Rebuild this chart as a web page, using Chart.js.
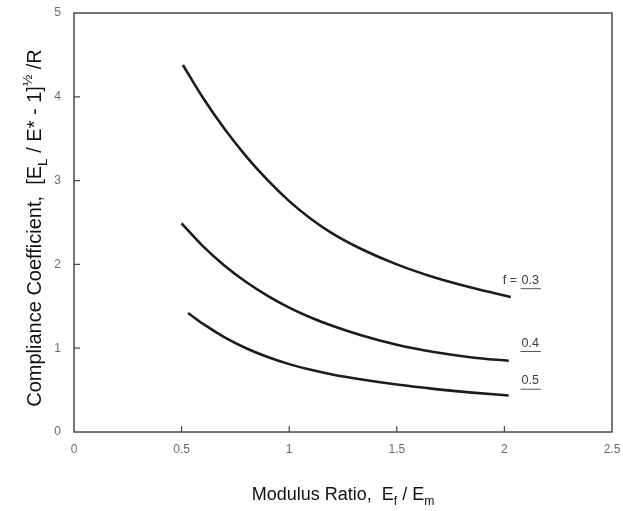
<!DOCTYPE html>
<html>
<head>
<meta charset="utf-8">
<script src="https://cdn.jsdelivr.net/npm/chart.js@4"></script>
<style>
  html, body { margin: 0; padding: 0; background: #fff; }
  #wrap { width: 623px; height: 511px; }
</style>
</head>
<body>
<div id="wrap"><canvas id="compliance_chart" width="623" height="511"></canvas></div>
<script>
// modulus ratio Ef/Em sampled along each curve
var ratio03 = [0.506, 0.6, 0.7, 0.8, 0.9, 1.0, 1.1, 1.2, 1.33, 1.5, 1.68, 1.85, 2.03];
var coef03  = [4.38, 3.985, 3.615, 3.29, 3.005, 2.755, 2.545, 2.37, 2.19, 2.0, 1.84, 1.72, 1.61];
var ratio04 = [0.5, 0.6, 0.7, 0.8, 0.9, 1.0, 1.1, 1.2, 1.33, 1.5, 1.68, 1.85, 2.02];
var coef04  = [2.49, 2.215, 1.985, 1.79, 1.625, 1.485, 1.367, 1.267, 1.157, 1.041, 0.951, 0.89, 0.849];
var ratio05 = [0.53, 0.6, 0.7, 0.8, 0.9, 1.0, 1.1, 1.2, 1.33, 1.5, 1.68, 1.85, 2.02];
var coef05  = [1.42, 1.29, 1.13, 1.0, 0.895, 0.81, 0.742, 0.687, 0.629, 0.566, 0.512, 0.47, 0.436];
var xTicks = [0, 0.5, 1, 1.5, 2, 2.5];
var yTicks = [0, 1, 2, 3, 4, 5];
var curveLabels = ['f = 0.3', '0.4', '0.5'];

var ink = '#1c1c1c';
var tickInk = '#6a6a6a';
var fontFamily = '"Liberation Sans", Arial, sans-serif';

function toPoints(xs, ys) {
    var pts = [];
    for (var i = 0; i < xs.length; i++) {
        pts.push({ x: xs[i], y: ys[i] });
    }
    return pts;
}

function curve(xs, ys) {
    return {
        data: toPoints(xs, ys),
        borderColor: ink,
        borderWidth: 2.6,
        pointRadius: 0,
        fill: false,
        cubicInterpolationMode: 'monotone'
    };
}

// draws a run of text pieces; sub/sup pieces are smaller and shifted
function drawRich(ctx, pieces, x, y, size) {
    var cx = x;
    pieces.forEach(function (p) {
        var s = p.sub || p.sup ? size * 0.68 : size;
        ctx.font = s + 'px ' + fontFamily;
        var dy = p.sub ? size * 0.28 : (p.sup ? -size * 0.45 : 0);
        ctx.fillText(p.t, cx, y + dy);
        cx += ctx.measureText(p.t).width;
    });
    return cx - x;
}

function richWidth(ctx, pieces, size) {
    var w = 0;
    pieces.forEach(function (p) {
        var s = p.sub || p.sup ? size * 0.68 : size;
        ctx.font = s + 'px ' + fontFamily;
        w += ctx.measureText(p.t).width;
    });
    return w;
}

var frameAndText = {
    id: 'frameAndText',
    afterDraw(chart) {
        var ctx = chart.ctx;
        var area = chart.chartArea;
        var xs = chart.scales.x;
        var ys = chart.scales.y;
        ctx.save();

        // box round the plot
        ctx.strokeStyle = '#4a4a4a';
        ctx.lineWidth = 1.5;
        ctx.strokeRect(area.left, area.top, area.right - area.left, area.bottom - area.top);

        // inward tick marks
        ctx.lineWidth = 1.2;
        ctx.beginPath();
        xTicks.slice(1, -1).forEach(function (v) {
            var px = xs.getPixelForValue(v);
            ctx.moveTo(px, area.bottom);
            ctx.lineTo(px, area.bottom - 6);
        });
        yTicks.slice(1, -1).forEach(function (v) {
            var py = ys.getPixelForValue(v);
            ctx.moveTo(area.left, py);
            ctx.lineTo(area.left + 6, py);
        });
        ctx.stroke();

        // curve labels with underlined values
        ctx.fillStyle = '#3a3a3a';
        ctx.strokeStyle = '#555';
        ctx.lineWidth = 1;
        ctx.textBaseline = 'alphabetic';
        ctx.font = '12.5px ' + fontFamily;
        var labelSpots = [[2.12, 1.77], [2.12, 1.02], [2.12, 0.57]];
        curveLabels.forEach(function (txt, i) {
            var px = xs.getPixelForValue(labelSpots[i][0]);
            var py = ys.getPixelForValue(labelSpots[i][1]);
            var parts = txt.split('= ');
            var val = parts[parts.length - 1];
            var vw = ctx.measureText(val).width;
            ctx.textAlign = 'left';
            ctx.fillText(val, px - vw / 2, py);
            if (parts.length > 1) {
                ctx.textAlign = 'right';
                ctx.fillText(parts[0] + '= ', px - vw / 2 - 1, py);
            }
            ctx.beginPath();
            ctx.moveTo(px - vw / 2 - 1, py + 5);
            ctx.lineTo(px + vw / 2 + 2, py + 5);
            ctx.stroke();
        });

        // axis titles
        ctx.fillStyle = '#111';
        ctx.textAlign = 'left';
        var xTitle = [{ t: 'Modulus Ratio,  E' }, { t: 'f', sub: true }, { t: ' / E' }, { t: 'm', sub: true }];
        var xw = richWidth(ctx, xTitle, 18);
        drawRich(ctx, xTitle, 343 - xw / 2, 500, 18);

        var yTitle = [{ t: 'Compliance Coefficient,  [E' }, { t: 'L', sub: true }, { t: ' / E* - 1]' },
                      { t: '\u00bd', sup: true }, { t: ' /R' }];
        ctx.translate(41, 228);
        ctx.rotate(-Math.PI / 2);
        var yw = richWidth(ctx, yTitle, 20);
        drawRich(ctx, yTitle, -yw / 2, 0, 20);

        ctx.restore();
    }
};

var chartObj = new Chart(document.getElementById('compliance_chart').getContext('2d'), {
    type: 'line',
    data: {
        datasets: [curve(ratio03, coef03), curve(ratio04, coef04), curve(ratio05, coef05)]
    },
    options: {
        responsive: false,
        animation: false,
        layout: { padding: { top: 13, right: 11, left: 0, bottom: 0 } },
        plugins: {
            legend: { display: false },
            tooltip: { enabled: false }
        },
        scales: {
            x: {
                type: 'linear',
                min: 0,
                max: 2.5,
                afterBuildTicks(scale) {
                    scale.ticks = xTicks.map(function (v) { return { value: v }; });
                },
                afterFit(scale) { scale.height = 79; },
                grid: { display: false },
                border: { display: false },
                ticks: {
                    color: tickInk,
                    font: { size: 12, family: fontFamily },
                    padding: 2,
                    maxRotation: 0,
                    autoSkip: false,
                    callback: function (v) { return String(v); }
                }
            },
            y: {
                type: 'linear',
                min: 0,
                max: 5,
                afterBuildTicks(scale) {
                    scale.ticks = yTicks.map(function (v) { return { value: v }; });
                },
                afterFit(scale) { scale.width = 74; },
                grid: { display: false },
                border: { display: false },
                ticks: {
                    color: tickInk,
                    font: { size: 12, family: fontFamily },
                    padding: 5
                }
            }
        }
    },
    plugins: [frameAndText]
});
</script>
</body>
</html>
